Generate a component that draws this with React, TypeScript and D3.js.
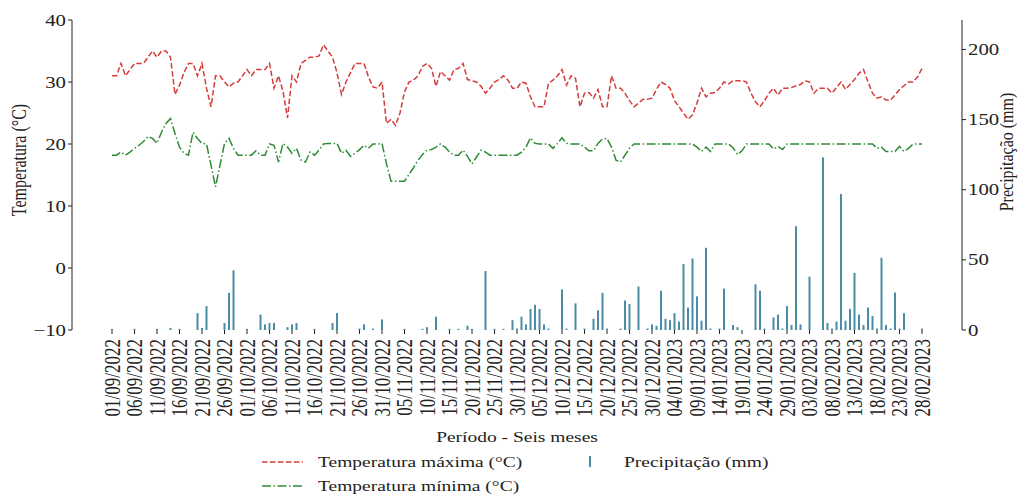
import React from 'react'
import * as d3 from 'd3'

const width = 1021
const height = 498
const margin = { top: 20, bottom: 330, left: 72, right: 962 }
const xRange = [112, 922]
const font = '"Liberation Serif", "DejaVu Serif", serif'
const SX = 1.3 // the reference is stretched sideways

// one value per day, 01/09/2022 .. 28/02/2023
const days = d3.timeDay.range(new Date(2022, 8, 1), new Date(2023, 2, 1))

const tempMax = [
  31, 31, 33, 31, 32, 33, 33, 33, 34, 35,
  34, 35, 35, 34, 28, 29.5, 31.5, 33, 33, 31,
  33, 29, 26, 31, 31, 30, 29.2, 29.8, 30, 31,
  32, 31, 32, 32, 32, 33, 29, 31, 28.5, 24.2,
  31, 30, 33, 33.5, 34, 34, 34.2, 36, 35, 34,
  31.5, 28, 30, 31.5, 33, 33, 33, 30.8, 29.2, 29,
  30, 23.3, 24, 23, 25, 28.4, 30, 30.3, 31, 32.5,
  33, 32.2, 29.3, 31.7, 31, 30.3, 32, 32.2, 33, 30.4,
  30.2, 30, 29.3, 28.2, 29, 30, 30.4, 31, 30.3, 29,
  29, 30, 29.8, 27.6, 26, 26, 26, 29.8, 30.3, 31,
  32, 29.5, 31, 30.6, 26, 28.2, 28.3, 27.4, 28.8, 26,
  26, 31, 29, 29, 28.2, 27, 26, 26.6, 27.2, 27.2,
  27.4, 28.8, 30, 29.6, 29, 27, 26, 25, 24, 24.7,
  26.6, 29, 27.6, 28.2, 28.3, 29, 30, 29.7, 30.2, 30.2,
  30.2, 30, 28.2, 26.8, 26, 27, 28.2, 29, 27.9, 29,
  29, 29.1, 29.4, 29.6, 30.2, 30, 28.2, 29, 29, 29,
  28.2, 29.1, 30, 28.8, 29.6, 30.4, 31.4, 32, 30, 28.2,
  27.4, 27.6, 27.1, 27.1, 27.9, 28.8, 29.4, 30, 30, 30.8, 32.2,
]

const tempMin = [
  18.2, 18.2, 18.7, 18.2, 18.7, 19.3, 19.8, 20.4, 21.2, 20.9,
  20.1, 21.9, 23.3, 24.1, 21.7, 19.5, 18.5, 18.2, 21.9, 20.9,
  20.1, 20, 16.6, 13.1, 16.6, 20.1, 20.9, 19.3, 18.2, 18.2,
  18.2, 18.2, 18.9, 18.2, 18.2, 20, 19.8, 17.1, 20.1, 19.5,
  18.5, 19.3, 17.4, 17.1, 18.7, 18.2, 19, 20, 20.1, 20.1,
  20.1, 18.5, 19, 18, 18.5, 19.1, 19.8, 19.3, 20, 20,
  20.1, 16.8, 14, 14, 14, 14, 15.1, 16.2, 17.4, 18.3,
  19, 19.1, 19.5, 20, 19.5, 18.7, 18.2, 18.2, 19, 18,
  16.8, 17.9, 19, 18.7, 18.2, 18.2, 18.2, 18.2, 18.2, 18.2,
  18.2, 18.7, 19.5, 21, 20.1, 20, 20, 20, 19.3, 20.1,
  21, 20.1, 20, 20, 20, 19.5, 18.9, 18.9, 20.1, 20.8,
  20.9, 19.5, 17.4, 17.1, 18.2, 19.3, 20, 20, 20, 20,
  20, 20, 20, 20, 20, 20, 20, 20, 20, 20,
  19.5, 18.8, 19.5, 18.8, 20, 20, 20, 20, 19.4, 18.3,
  18.9, 20, 20, 20, 20, 20, 20, 19.2, 19.6, 19.1,
  20, 20, 20, 20, 20, 20, 20, 20, 20, 20,
  20, 20, 20, 20, 20, 20, 20, 20, 20, 20,
  19.3, 19.5, 18.8, 18.8, 18.8, 19.6, 18.8, 19.3, 20, 20, 20,
]

const precip = [
  0.8, 0, 0, 0, 0, 0.8, 0, 0, 0, 0,
  0.8, 0, 0, 1.5, 0, 0.8, 0, 0, 0, 12,
  1.5, 17, 0, 0, 0, 5, 26.5, 42.5, 0, 0,
  0.8, 0, 0, 11, 4, 5, 5, 0, 0, 2,
  4, 5, 0, 0, 0, 0.8, 0, 0, 0, 5,
  12, 0, 0, 0, 0, 1, 4, 0, 1, 0,
  7.5, 0, 0, 0, 0, 0.8, 0, 0, 0, 0.8,
  2, 0, 9.5, 0, 0, 0.8, 0, 0.8, 0, 3,
  0.8, 0, 0, 42, 0, 0.8, 0, 0.8, 0, 7,
  1, 9.5, 4, 15, 18, 15, 4, 1, 0, 0,
  29, 1, 0, 19, 0, 1, 0, 8, 14, 26.5,
  1, 0, 0, 1, 21, 18.5, 0, 31, 0, 1,
  4, 3, 28, 8, 7, 12, 6, 47, 16, 51,
  24, 6.6, 58.6, 1, 0, 1, 29.5, 0, 3.5, 2,
  0, 0, 0, 32.6, 28, 1, 0, 9, 11, 1,
  17, 3.5, 74, 4, 0, 38, 0, 0, 123, 5,
  1, 6, 97, 6.6, 15, 40.7, 11, 3.5, 16, 10,
  1, 51.5, 3.5, 1, 26.7, 1, 12, 0, 0, 0, 1,
]

const tempTicks = [-10, 0, 10, 20, 30, 40]
const precipTicks = [0, 50, 100, 150, 200]
const tickEvery = 5

const colors = { max: '#d63c3c', min: '#2f8a35', rain: '#4a8ca6', axis: '#222' }

const App = () => {
  const x = d3.scaleTime()
    .domain([days[0], days[days.length - 1]])
    .range(xRange)
  const yTemp = d3.scaleLinear().domain([-10, 40]).range([margin.bottom, margin.top])
  const yRain = d3.scaleLinear().domain([0, 221]).range([margin.bottom, margin.top])

  const lineMax = d3.line<number>().x((d, i) => x(days[i])).y(d => yTemp(d))
  const lineMin = d3.line<number>().x((d, i) => x(days[i])).y(d => yTemp(d))
  const fmt = d3.timeFormat('%d/%m/%Y')
  const dateTicks = days.filter((d, i) => i % tickEvery === 0)
  const tempFmt = (v: number) => (v < 0 ? '\u2212' + Math.abs(v) : String(v))

  return (
    <svg width={width} height={height} style={{ position: 'absolute', left: 0, top: 0 }}
      fontFamily={font} fill={colors.axis}>
      <rect width={width} height={height} fill='white' />

      {/* precipitation bars */}
      {precip.map((v, i) => v > 0 && (
        <rect key={i} x={x(days[i]) - 1} width={2}
          y={yRain(v)} height={yRain(0) - yRain(v)} fill={colors.rain} />
      ))}

      <path d={lineMax(tempMax) || ''} fill='none' stroke={colors.max}
        strokeWidth={1.5} strokeDasharray='5.5,2.5' />
      <path d={lineMin(tempMin) || ''} fill='none' stroke={colors.min}
        strokeWidth={1.5} strokeDasharray='9,2.5,1.5,2.5' />

      {/* left axis */}
      <line x1={margin.left} x2={margin.left} y1={margin.top} y2={margin.bottom} stroke={colors.axis} />
      {tempTicks.map(t => (
        <g key={t}>
          <line x1={margin.left - 4} x2={margin.left} y1={yTemp(t)} y2={yTemp(t)} stroke={colors.axis} />
          <text transform={`translate(${margin.left - 6},${yTemp(t)}) scale(${SX},1)`}
            textAnchor='end' dominantBaseline='central' fontSize={16}>{tempFmt(t)}</text>
        </g>
      ))}
      <text transform={`translate(19,160) scale(${SX},1) rotate(-90)`}
        textAnchor='middle' dominantBaseline='central' fontSize={16}>Temperatura (°C)</text>

      {/* right axis */}
      <line x1={margin.right} x2={margin.right} y1={margin.top} y2={margin.bottom} stroke={colors.axis} />
      {precipTicks.map(t => (
        <g key={t}>
          <line x1={margin.right} x2={margin.right + 4} y1={yRain(t)} y2={yRain(t)} stroke={colors.axis} />
          <text transform={`translate(${margin.right + 6},${yRain(t)}) scale(${SX},1)`}
            textAnchor='start' dominantBaseline='central' fontSize={16}>{t}</text>
        </g>
      ))}
      <text transform={`translate(1007,152) scale(1.15,1) rotate(-90)`}
        textAnchor='middle' dominantBaseline='central' fontSize={16}>Precipitação (mm)</text>

      {/* date ticks */}
      {dateTicks.map(d => (
        <g key={+d}>
          <line x1={x(d)} x2={x(d)} y1={margin.bottom} y2={margin.bottom + 4} stroke={colors.axis} />
          <text transform={`translate(${x(d)},${margin.bottom + 9}) scale(${SX},1) rotate(-90)`}
            textAnchor='end' dominantBaseline='central' fontSize={17}>{fmt(d)}</text>
        </g>
      ))}
      <text transform={`translate(517,442) scale(${SX},1)`} textAnchor='middle' fontSize={15}>
        Período - Seis meses
      </text>

      {/* legend */}
      <line x1={262} x2={303} y1={462} y2={462} stroke={colors.max} strokeWidth={1.5} strokeDasharray='5.5,2.5' />
      <text transform={`translate(318,467) scale(${SX},1)`} fontSize={15}>Temperatura máxima (°C)</text>
      <line x1={262} x2={303} y1={486} y2={486} stroke={colors.min} strokeWidth={1.5} strokeDasharray='9,2.5,1.5,2.5' />
      <text transform={`translate(318,491) scale(${SX},1)`} fontSize={15}>Temperatura mínima (°C)</text>
      <line x1={590} x2={590} y1={456} y2={467} stroke={colors.rain} strokeWidth={2} />
      <text transform={`translate(624,467) scale(${SX},1)`} fontSize={15}>Precipitação (mm)</text>
    </svg>
  )
}

export default App
